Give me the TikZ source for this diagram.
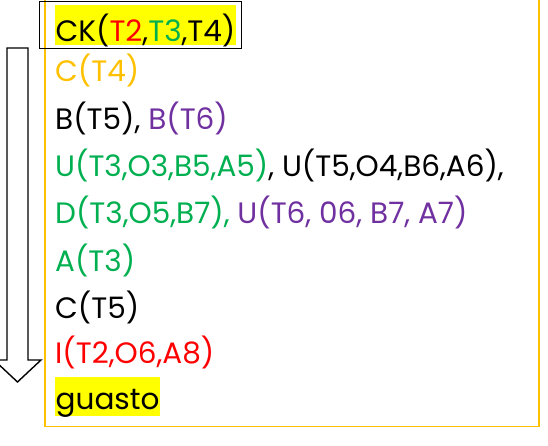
\documentclass[tikz,border=0pt]{standalone}
\usepackage{fontspec}
\setmainfont{Poppins}
\usetikzlibrary{calc}
\definecolor{cred}{RGB}{255,0,0}
\definecolor{cgreen}{RGB}{0,176,80}
\definecolor{corange}{RGB}{255,192,0}
\definecolor{cpurple}{RGB}{112,48,160}
\definecolor{cyellow}{RGB}{255,255,0}
\begin{document}
\begin{tikzpicture}[x=1pt,y=-1pt,
  line/.style={anchor=base west,inner sep=0pt,font=\fontsize{29.5}{32}\selectfont},
  hl/.style={line,fill=cyellow,inner xsep=0.5pt}]
\useasboundingbox (0,0) rectangle (548,446);
\node[draw=corange,line width=1.5pt,minimum width=494pt,minimum height=437pt,anchor=south west,inner sep=0pt] (frame) at (44,427) {};
\node[hl,text height=37pt,text depth=3pt] (l1) at (55,42) {CK(\textcolor{cred}{T2},\textcolor{cgreen}{T3},T4)};
\node[draw=black,line width=1.4pt,fill=none,minimum width=202pt,minimum height=47pt,inner sep=0pt,anchor=north west] (box) at (39,1) {};
\node[line,text=corange] (l2) at (55,82) {C(T4)};
\node[line] (l3) at (55,130) {B(T5), \textcolor{cpurple}{B(T6)}};
\node[line] (l4) at (55,177) {\textcolor{cgreen}{U(T3,O3,B5,A5)}, U(T5,O4,B6,A6),};
\node[line,text=cgreen] (l5) at (55,224) {D(T3,O5,B7), \textcolor{cpurple}{U(T6, 06, B7, A7)}};
\node[line,text=cgreen] (l6) at (55,271) {A(T3)};
\node[line] (l7) at (55,318) {C(T5)};
\node[line,text=cred] (l8) at (55,363) {I(T2,O6,A8)};
\node[hl,text height=32pt,text depth=7pt] (l9) at (55,409) {guasto};
\draw[line width=1.4pt,fill=white] (7,48) -- (7,360) -- (-6,360) -- (17.5,382) -- (41,360) -- (28,360) -- (28,48) -- cycle;
\end{tikzpicture}
\end{document}
